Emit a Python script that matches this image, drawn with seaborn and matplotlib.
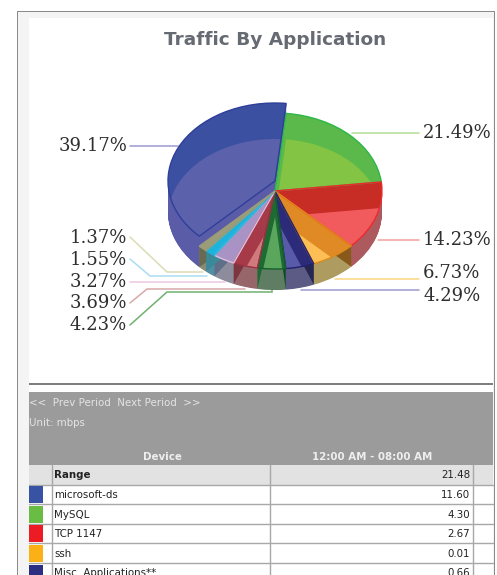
import numpy as np
import seaborn as sns
from matplotlib import pyplot as plt
from matplotlib.patches import Rectangle, Polygon

sns.set_style("white")

shares = [39.17, 21.49, 14.23, 6.73, 4.29, 4.23, 3.69, 3.27, 1.55, 1.37]
share_labels = ["39.17%", "21.49%", "14.23%", "6.73%", "4.29%", "4.23%", "3.69%", "3.27%", "1.55%", "1.37%"]

top_colors = ["#3c50a2", "#5ab94a", "#c72c25", "#df8a25", "#2b2b7a", "#1d6b33", "#a63a48", "#a893c4", "#1cb4dc", "#9c9c78"]
light_colors = ["#5b61aa", "#84c444", "#f15b5e", "#fdbf55", "#5a5aaa", "#5aa65c", "#d07a7e", "#c9a8d4", "#1cb4dc", "#9c9c78"]
wall_colors = ["#5a5ca8", "#4f9a45", "#ad5a5f", "#ae9b60", "#5b5b85", "#5e7d62", "#96666a", "#8c8c9c", "#4f8fa5", "#8a8a70"]
edge_colors = ["#2f3f9a", "#2db84a", "#ee2a2a", "#e08a1a", "#22226a", "#14602c", "#a03040", "#e0c0e0", "#1cb4dc", "#9c9c78"]
face_colors = ["#6a6a50", "#2db84a", "#7e3030", "#875a1c", "#262650", "#0f4a28", "#1f6a35", "#7e3540", "#5f6f88", "#3a8a9a"]
line_colors = ["#9a9ad0", "#b5dd95", "#f4a0a0", "#fcd583", "#9a9ad0", "#70b070", "#d8a8a8", "#eec8e0", "#a8def0", "#dcdcb4"]

devices = ["Range", "microsoft-ds", "MySQL", "TCP 1147", "ssh", "Misc. Applications**"]
device_values = ["21.48", "11.60", "4.30", "2.67", "0.01", "0.66"]
swatches = [None, "#3953a4", "#69bd45", "#ed1c24", "#fbb116", "#2b2e81"]

# pie geometry in pixels of the output image
CX, CY, RX, RY = 275, 191, 107, 78
DEPTH, LIFT, SHIFT = 21, 10, 26
START = -135

fig = plt.figure(figsize=(4.97, 5.75), dpi=100)
bg = fig.add_axes([0, 0, 1, 1])
bg.set_xlim(0, 497)
bg.set_ylim(575, 0)
bg.axis("off")


def box(x0, y0, x1, y1, color, z=1):
    bg.add_patch(Rectangle((x0, y0), x1 - x0, y1 - y0, fc=color, ec="none", zorder=z))


# page frame
box(17, 11, 495, 575, "#8a8a8a")
box(18, 12, 494, 575, "#f4f4f4")
box(29, 18, 493, 383, "white")
box(29, 383, 493, 385, "#7f7f7f")
box(29, 385, 493, 392, "white")
box(29, 392, 493, 465, "#9b9b9b")
box(29, 465, 493, 575, "white")

bg.text(275, 40, "Traffic By Application", ha="center", va="center", fontsize=13.3,
        fontweight="bold", color="#666b73", zorder=3)

# table
small = dict(fontsize=7.4, family="DejaVu Sans", zorder=3, va="center")
bg.text(29, 403.5, "<<  Prev Period  Next Period  >>", color="#e4e4e4", **small)
bg.text(29, 423, "Unit: mbps", color="#e4e4e4", **small)
bg.text(162, 457, "Device", color="#eeeeee", ha="center", fontweight="bold", **small)
bg.text(372, 457, "12:00 AM - 08:00 AM", color="#eeeeee", ha="center", fontweight="bold", **small)

ROW = 19.6
for i, (name, value, sw) in enumerate(zip(devices, device_values, swatches)):
    y0 = 465 + i * ROW
    if sw is None:
        box(29, y0, 493, y0 + ROW, "#e2e2e2")
    else:
        box(29, y0 + 1.5, 43, y0 + ROW - 1, sw, z=2)
    bg.plot([29, 493], [y0 + ROW, y0 + ROW], color="#a8a8a8", lw=1, zorder=2)
    bg.text(54, y0 + ROW / 2 + 0.5, name, color="#222222",
            fontweight="bold" if sw is None else "normal", **small)
    bg.text(470, y0 + ROW / 2 + 0.5, value, color="#222222", ha="right", **small)
for x in [52, 270, 473]:
    bg.plot([x, x], [465, 575], color="#a8a8a8", lw=1, zorder=2)

# leader lines and labels, same order as shares
leaders = [
    [(130, 146), (178, 146)],
    [(352, 133), (419, 133)],
    [(378, 240), (419, 240)],
    [(335, 279), (419, 279)],
    [(301, 290), (419, 290)],
    [(130, 325), (167, 292), (272, 292), (272, 287)],
    [(130, 303), (147, 289), (245, 289)],
    [(130, 282), (225, 282)],
    [(130, 259), (150, 276), (207, 276)],
    [(130, 237), (167, 272), (203, 272)],
]
label_pos = [(127, 146, "right"), (423, 133, "left"), (423, 240, "left"), (423, 273, "left"), (423, 296, "left"),
             (127, 325, "right"), (127, 303, "right"), (127, 282, "right"), (127, 260, "right"), (127, 238, "right")]
for pts, col, (lx, ly, ha), lab in zip(leaders, line_colors, label_pos, share_labels):
    bg.plot(*zip(*pts), color=col, lw=1.1, zorder=3, solid_joinstyle="miter")
    bg.text(lx, ly, lab, ha=ha, va="center", family="DejaVu Serif", fontsize=13, color="#2e2e2e", zorder=3)

# the pie lives on its own axes, x unit = RX pixels and y unit = RY pixels
ax = fig.add_axes([0, 0, 1, 1])


def pie_at(offset_px, colors, **kw):
    wedges, _ = ax.pie(shares, colors=colors, startangle=START, counterclock=False,
                       center=(0, offset_px / RY), radius=1, **kw)
    return wedges


# side wall
for off in np.arange(-DEPTH, 0.01, 0.5):
    for w in pie_at(off, wall_colors, wedgeprops={"lw": 0}):
        w.set_zorder(1)
for off in np.arange(0, LIFT + 0.01, 0.5):
    for i, w in enumerate(pie_at(off, wall_colors, wedgeprops={"lw": 0})):
        w.set_zorder(2)
        w.set_visible(i == 0)

# radial faces seen below the rim, where slices meet
base = pie_at(0, top_colors, wedgeprops={"lw": 0})
d = DEPTH / RY
for w, col in zip(base, face_colors):
    w.set_visible(False)
    th = np.deg2rad(w.theta2)
    x, y = np.cos(th), np.sin(th)
    ax.add_patch(Polygon([(0, 0), (x, y), (x, y - d), (0, -d)], fc=col, ec="none", zorder=3))

# top surface, the lighter part is the same pie shifted down and clipped to its slice
tops = pie_at(0, top_colors, wedgeprops={"lw": 0})
lights = pie_at(-SHIFT, light_colors, wedgeprops={"lw": 0})
rims = pie_at(0, ["none"] * len(shares), wedgeprops={"lw": 1.0})
blue_top = pie_at(LIFT, top_colors[:1] * len(shares), wedgeprops={"lw": 0})
blue_light = pie_at(-SHIFT, light_colors[:1] * len(shares), wedgeprops={"lw": 0})
blue_rim = pie_at(LIFT, ["none"] * len(shares), wedgeprops={"lw": 1.0})
for i in range(len(shares)):
    tops[i].set_zorder(4)
    lights[i].set_zorder(5)
    rims[i].set_zorder(6)
    rims[i].set_edgecolor(edge_colors[i])
    for group in (blue_top, blue_light, blue_rim):
        group[i].set_zorder(7 + (group is blue_light) + 2 * (group is blue_rim))
        group[i].set_visible(i == 0)
    blue_rim[i].set_edgecolor(edge_colors[0])
for group in (tops, lights, rims):
    group[0].set_visible(False)

ax.set_aspect("auto")
ax.set_xlim(-CX / RX, (497 - CX) / RX)
ax.set_ylim((CY - 575) / RY, CY / RY)
ax.patch.set_visible(False)

# pie wedges come with clipping switched off
for i in range(1, len(shares)):
    lights[i].set_clip_on(True)
    lights[i].set_clip_path(tops[i].get_path(), ax.transData)
blue_light[0].set_clip_on(True)
blue_light[0].set_clip_path(blue_top[0].get_path(), ax.transData)

fig.savefig("out.png", dpi=100)
